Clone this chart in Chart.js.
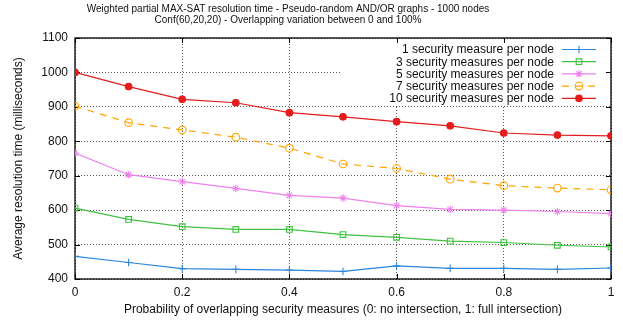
<!DOCTYPE html>
<html><head><meta charset="utf-8">
<script src="https://cdn.jsdelivr.net/npm/chart.js@4/dist/chart.umd.min.js"></script>
<style>html,body{margin:0;padding:0;background:#fff}#wrap{width:623px;height:325px}</style>
</head><body><div id="wrap"><canvas id="c" width="623" height="325"></canvas></div>
<script>
const titleLines = ["Weighted partial MAX-SAT resolution time - Pseudo-random AND/OR graphs - 1000 nodes", "Conf(60,20,20) - Overlapping variation between 0 and 100%"];
const xTitle = "Probability of overlapping security measures (0: no intersection, 1: full intersection)";
const yTitle = "Average resolution time (milliseconds)";
const probabilities = [0, 0.1, 0.2, 0.3, 0.4, 0.5, 0.6, 0.7, 0.8, 0.9, 1];
const seriesLabels = ["1 security measure per node", "3 security measures per node", "5 security measures per node", "7 security measures per node", "10 security measures per node"];
const sm1 = [466, 448, 430, 428, 426, 422, 438, 431, 431, 428, 432];
const sm3 = [606, 573, 552, 544, 544, 529, 521, 510, 506, 498, 493];
const sm5 = [766, 703, 683, 663, 643, 635, 613, 602, 600, 596, 590];
const sm7 = [902, 854, 833, 812, 780, 734, 721, 690, 671, 664, 659];
const sm10 = [1000, 959, 922, 912, 883, 871, 857, 845, 824, 818, 816];
const xTicks = [0, 0.2, 0.4, 0.6, 0.8, 1];
const yTicks = [400, 500, 600, 700, 800, 900, 1000, 1100];

const FONT = "'Liberation Sans', Arial, sans-serif";
const pts = arr => arr.map((v, i) => ({x: probabilities[i], y: v}));

const styles = [
  {color: '#2b86d9', point: 'cross', fill: false, dash: []},
  {color: '#3fc23f', point: 'rect', fill: false, dash: []},
  {color: '#ee82ee', point: 'star', fill: false, dash: []},
  {color: '#ffa500', point: 'circle', fill: false, dash: [7, 6]},
  {color: '#e41c1c', point: 'circle', fill: true, dash: []}
];
const values = [sm1, sm3, sm5, sm7, sm10];

const datasets = values.map((arr, i) => ({
  label: seriesLabels[i],
  data: pts(arr),
  borderColor: styles[i].color,
  backgroundColor: styles[i].fill ? styles[i].color : 'rgba(0,0,0,0)',
  pointBorderColor: styles[i].color,
  pointBackgroundColor: styles[i].fill ? styles[i].color : 'rgba(0,0,0,0)',
  pointStyle: styles[i].point,
  pointRadius: styles[i].point === 'rect' ? 4 : (styles[i].fill ? 3.3 : 3.8),
  pointBorderWidth: 1.1,
  borderWidth: 1.2,
  borderDash: styles[i].dash,
  tension: 0,
  fill: false
}));

const framePlugin = {
  id: 'frame',
  beforeDatasetsDraw(chart) {
    const {ctx, chartArea: a, scales} = chart;
    ctx.save();
    ctx.fillStyle = '#fff';
    ctx.fillRect(340, a.top + 1, 266, 67);
    ctx.strokeStyle = '#000';
    ctx.lineWidth = 1.3;
    ctx.strokeRect(a.left, a.top, a.right - a.left, a.bottom - a.top);
    ctx.lineWidth = 1;
    const tl = 5;
    yTicks.forEach(v => {
      const y = Math.round(scales.y.getPixelForValue(v)) + 0.5;
      ctx.beginPath();
      ctx.moveTo(a.left, y); ctx.lineTo(a.left + tl, y);
      ctx.moveTo(a.right, y); ctx.lineTo(a.right - tl, y);
      ctx.stroke();
    });
    xTicks.forEach(v => {
      const x = Math.round(scales.x.getPixelForValue(v)) + 0.5;
      ctx.beginPath();
      ctx.moveTo(x, a.bottom); ctx.lineTo(x, a.bottom - tl);
      ctx.moveTo(x, a.top); ctx.lineTo(x, a.top + tl);
      ctx.stroke();
    });
    ctx.restore();
  },
  afterDatasetsDraw(chart) {
    const {ctx} = chart;
    ctx.save();
    ctx.font = '12px ' + FONT;
    ctx.textAlign = 'right';
    ctx.textBaseline = 'middle';
    chart.data.datasets.forEach((ds, i) => {
      const y = 49.5 + i * 12.2;
      ctx.fillStyle = '#111';
      ctx.fillText(ds.label, 554, y + 0.5);
      ctx.strokeStyle = ds.borderColor;
      ctx.lineWidth = 1.2;
      ctx.setLineDash(ds.borderDash || []);
      ctx.beginPath();
      ctx.moveTo(562, y); ctx.lineTo(596, y);
      ctx.stroke();
      ctx.setLineDash([]);
      ctx.strokeStyle = ds.pointBorderColor;
      ctx.fillStyle = ds.pointBackgroundColor;
      ctx.lineWidth = ds.pointBorderWidth;
      Chart.helpers.drawPoint(ctx, {
        pointStyle: ds.pointStyle,
        radius: ds.pointRadius,
        rotation: 0,
        borderWidth: ds.pointBorderWidth
      }, 579, y);
    });
    ctx.restore();
  },
  afterDraw(chart) {
    const {ctx} = chart;
    ctx.save();
    ctx.font = '10px ' + FONT;
    ctx.fillStyle = '#111';
    ctx.textAlign = 'center';
    ctx.textBaseline = 'middle';
    ctx.fillText(titleLines[0], 288, 9);
    ctx.fillText(titleLines[1], 288, 20.5);
    ctx.restore();
  }
};

new Chart(document.getElementById('c'), {
  type: 'line',
  data: {datasets},
  options: {
    responsive: false,
    animation: false,
    layout: {padding: {top: 38, right: 12, left: 0, bottom: 0}},
    plugins: {legend: {display: false}, title: {display: false}, tooltip: {enabled: false}},
    elements: {line: {tension: 0}},
    scales: {
      x: {
        type: 'linear', min: 0, max: 1,
        afterBuildTicks: s => { s.ticks = xTicks.map(v => ({value: v})); },
        afterFit: s => { s.height = 46; },
        grid: {color: '#555', lineWidth: 1, drawTicks: false},
        border: {display: false, dash: [1, 2]},
        ticks: {padding: 6, color: '#111', font: {family: FONT, size: 12}, maxRotation: 0,
          callback: v => String(v)},
        title: {display: true, text: xTitle, color: '#111', font: {family: FONT, size: 12},
          padding: {top: 0, bottom: 8}}
      },
      y: {
        type: 'linear', min: 400, max: 1100,
        afterBuildTicks: s => { s.ticks = yTicks.map(v => ({value: v})); },
        afterFit: s => { s.width = 75; },
        grid: {color: '#555', lineWidth: 1, drawTicks: false},
        border: {display: false, dash: [1, 2]},
        ticks: {padding: 7, color: '#111', font: {family: FONT, size: 12}, callback: v => String(v)},
        title: {display: true, text: yTitle, color: '#111', font: {family: FONT, size: 12},
          padding: {top: 11, bottom: 0}}
      }
    }
  },
  plugins: [framePlugin]
});
</script></body></html>
